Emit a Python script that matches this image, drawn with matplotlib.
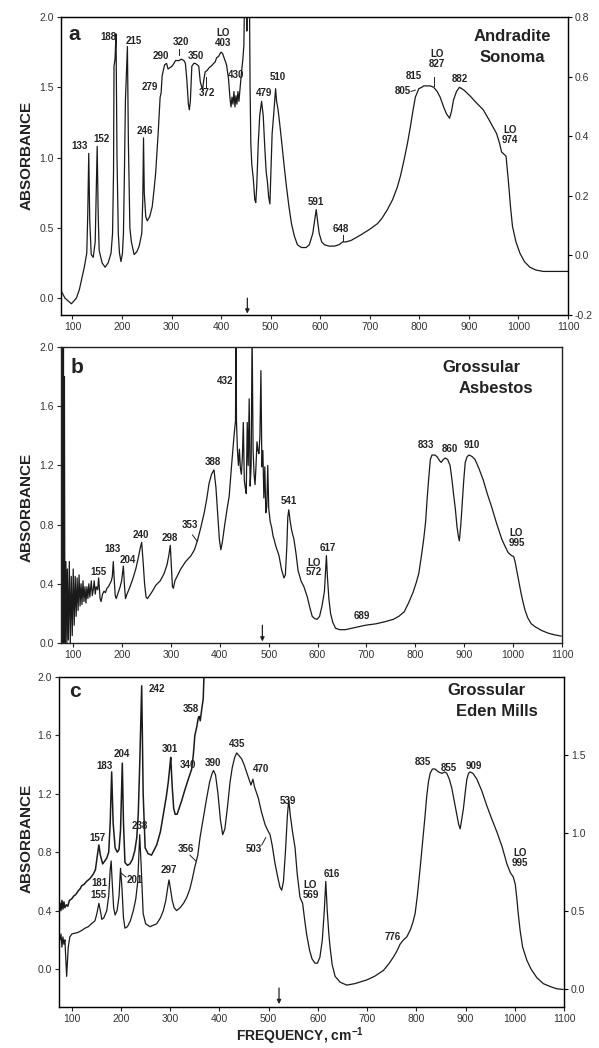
import matplotlib
matplotlib.use("Agg")
import matplotlib.pyplot as plt

plt.rcParams['font.family'] = ['Liberation Sans', 'DejaVu Sans']
plt.rcParams['mathtext.fontset'] = 'custom'
plt.rcParams['mathtext.rm'] = 'Liberation Sans'
plt.rcParams['mathtext.bf'] = 'Liberation Sans:bold'

# ---------------- data ----------------
# Panel a: Andradite Sonoma
a_x = [76, 85, 98, 108, 114, 124, 129, 131, 133, 135, 138, 142, 146, 150, 152, 154, 160, 166,
       172, 178, 181, 183, 184, 186, 188, 190, 192.6, 195, 198, 201, 203, 205, 207, 209, 211,
       213, 216, 219, 224.6, 230, 234.7, 240, 242, 243.5, 245, 248, 251, 256, 261, 265, 268,
       273, 277, 279, 281, 286, 290, 293, 297, 301, 305, 308, 315, 320, 325, 328, 331, 334,
       336, 338, 341, 345, 348, 352, 355, 358, 362.6, 365, 368, 372, 376, 380, 385, 388, 391,
       395, 398, 400, 403, 407, 411, 415, 418, 420, 422, 424, 426, 428, 430, 432, 434, 436,
       438, 441, 444, 446, 448, 450, 452, 454, 457, 458.5, 460, 462, 465, 468, 470, 472, 475,
       478, 481.7, 485, 488.5, 491, 493.7, 496, 498.5, 501, 503, 506, 508, 510, 512, 515, 518,
       522, 527, 532, 537, 542, 548, 554, 562, 571.5, 578, 585, 589, 592, 595, 598, 603, 608.5,
       618, 628.5, 638, 645.5, 652, 662, 672, 682, 700, 715.6, 725, 735.6, 746, 755.7, 762,
       769, 776, 782, 787, 792, 799, 805, 809, 815, 822, 829, 836, 842, 849, 855, 861, 865,
       869, 875, 881, 890, 902, 915, 929, 942, 956, 962, 966, 972, 975, 978, 980, 984, 988,
       995, 1003, 1012, 1023, 1035, 1050, 1075, 1100]
a_y = [0.06, 0.00, -0.04, 0.00, 0.06, 0.22, 0.32, 0.60, 1.03, 0.55, 0.31, 0.29, 0.40, 1.08,
       0.60, 0.34, 0.25, 0.22, 0.25, 0.32, 0.46, 0.90, 1.65, 1.70, 1.88, 1.00, 0.46, 0.32,
       0.26, 0.32, 0.46, 0.90, 1.41, 1.60, 1.79, 1.10, 0.50, 0.40, 0.31, 0.33, 0.37, 0.46,
       0.70, 1.14, 0.75, 0.58, 0.55, 0.58, 0.65, 0.78, 0.89, 1.17, 1.43, 1.46, 1.58, 1.66,
       1.67, 1.63, 1.64, 1.65, 1.67, 1.69, 1.69, 1.70, 1.69, 1.67, 1.55, 1.38, 1.34, 1.40,
       1.65, 1.67, 1.67, 1.66, 1.65, 1.54, 1.48, 1.55, 1.61, 1.62, 1.64, 1.65, 1.67, 1.68,
       1.71, 1.72, 1.74, 1.75, 1.74, 1.70, 1.66, 1.56, 1.42, 1.36, 1.43, 1.38, 1.47, 1.36,
       1.44, 1.38, 1.47, 1.40, 1.48, 1.60, 1.70, 1.80, 2.3, 2.5, 1.9, 2.5, 2.3, 1.5, 1.1,
       0.95, 0.85, 0.70, 0.68, 0.80, 1.10, 1.30, 1.40, 1.30, 1.05, 0.90, 0.82, 0.72, 0.67,
       0.95, 1.17, 1.30, 1.40, 1.49, 1.40, 1.34, 1.25, 1.12, 0.95, 0.79, 0.65, 0.53, 0.44,
       0.38, 0.36, 0.36, 0.38, 0.46, 0.56, 0.63, 0.54, 0.46, 0.40, 0.38, 0.37, 0.37, 0.38,
       0.40, 0.40, 0.41, 0.43, 0.45, 0.49, 0.53, 0.57, 0.63, 0.70, 0.79, 0.87, 0.98, 1.10,
       1.22, 1.33, 1.43, 1.49, 1.50, 1.51, 1.51, 1.51, 1.50, 1.47, 1.43, 1.36, 1.31, 1.28,
       1.33, 1.41, 1.47, 1.50, 1.48, 1.44, 1.39, 1.34, 1.26, 1.17, 1.10, 1.04, 1.02, 1.01,
       0.90, 0.82, 0.65, 0.51, 0.40, 0.32, 0.26, 0.22, 0.20, 0.19, 0.19, 0.19]

# Panel b: Grossular Asbestos
b_x = [75, 76, 77, 78, 79, 80, 81, 82, 83, 85, 87, 88, 90, 92, 94, 96, 98, 100, 102, 104, 106,
       108, 110, 112, 114, 116, 118, 120, 122, 124, 126, 128, 130, 132, 134, 137, 139, 141,
       143, 145, 147, 150, 152, 155, 157, 160, 163, 166, 169, 172, 175, 178, 180, 182, 184,
       186, 188, 192, 196, 199, 202.6, 205, 207, 210, 215, 221.6, 228, 234, 237, 240, 243,
       246, 249, 252, 256, 262, 269, 278, 286, 292, 296, 298.6, 301, 303, 305, 308, 314, 320,
       330, 341, 348, 354, 361, 368, 373, 378, 383, 388, 392, 396, 399, 402, 405, 410, 415,
       419, 424, 429, 432, 433, 434, 436, 438, 440, 442, 444, 446, 448, 450, 452, 454, 456,
       458, 460, 462, 464, 466, 468, 470, 472, 474, 476, 478, 480, 482, 484, 486, 488, 490,
       492, 494, 496, 498, 500, 503, 506, 509, 511, 514, 518, 521, 526, 531, 534, 537, 539,
       541, 544, 547, 551.6, 556, 560, 566, 572, 579, 584, 589, 594, 599, 604, 609, 614, 618,
       620, 623, 626.5, 631, 636.7, 645, 657, 670, 684, 698, 720, 739, 755, 766, 777, 786,
       795, 802, 807, 812, 817, 821, 824, 827, 830.6, 834, 840, 844, 850, 853, 857, 861, 866,
       871, 875, 878, 882, 885, 888, 890, 893, 896.5, 899, 902, 906, 910, 916, 922, 930, 939,
       947, 956, 966, 977, 984, 990, 997, 1001, 1004, 1008, 1011, 1016, 1020, 1024.5, 1030,
       1037, 1045, 1058, 1072, 1085, 1098]
b_y = [0.0, 2.1, 0.05, 2.1, 0.0, 2.1, 0.1, 1.8, 0.0, 0.55, 0.0, 0.50, 0.02, 0.55, 0.0, 0.45,
       0.05, 0.50, 0.12, 0.45, 0.18, 0.44, 0.22, 0.46, 0.25, 0.40, 0.26, 0.42, 0.28, 0.38,
       0.27, 0.38, 0.30, 0.40, 0.31, 0.42, 0.32, 0.36, 0.42, 0.33, 0.38, 0.36, 0.44, 0.30,
       0.28, 0.33, 0.35, 0.34, 0.37, 0.38, 0.40, 0.42, 0.45, 0.55, 0.42, 0.32, 0.30, 0.34,
       0.38, 0.42, 0.52, 0.38, 0.30, 0.33, 0.37, 0.43, 0.50, 0.59, 0.64, 0.68, 0.55, 0.40,
       0.31, 0.30, 0.32, 0.35, 0.39, 0.42, 0.47, 0.53, 0.60, 0.66, 0.50, 0.38, 0.37, 0.42,
       0.46, 0.50, 0.55, 0.59, 0.63, 0.69, 0.78, 0.88, 0.97, 1.08, 1.14, 1.17, 1.05, 0.85,
       0.70, 0.63, 0.68, 0.80, 0.91, 0.99, 1.20, 1.40, 1.50, 2.1, 1.50, 1.30, 1.20, 1.31,
       1.18, 1.14, 1.25, 1.49, 1.10, 1.05, 1.01, 1.49, 1.20, 1.65, 1.06, 1.20, 2.1, 1.30,
       1.14, 1.07, 1.20, 1.36, 1.30, 1.28, 1.40, 1.84, 1.19, 1.30, 0.98, 1.19, 0.88, 0.92,
       1.20, 0.91, 0.82, 0.78, 0.72, 0.70, 0.66, 0.62, 0.59, 0.50, 0.44, 0.46, 0.65, 0.85,
       0.90, 0.82, 0.76, 0.70, 0.60, 0.49, 0.42, 0.38, 0.31, 0.24, 0.18, 0.165, 0.16, 0.18,
       0.25, 0.35, 0.59, 0.45, 0.30, 0.20, 0.14, 0.10, 0.09, 0.09, 0.10, 0.11, 0.12, 0.13,
       0.145, 0.16, 0.18, 0.21, 0.27, 0.34, 0.41, 0.47, 0.58, 0.70, 0.82, 0.97, 1.10, 1.24,
       1.27, 1.27, 1.26, 1.23, 1.22, 1.24, 1.25, 1.24, 1.20, 1.10, 1.01, 0.90, 0.79, 0.72,
       0.69, 0.80, 0.97, 1.10, 1.22, 1.26, 1.27, 1.26, 1.24, 1.18, 1.10, 1.01, 0.92, 0.81,
       0.70, 0.65, 0.61, 0.59, 0.585, 0.55, 0.48, 0.43, 0.34, 0.28, 0.22, 0.17, 0.13, 0.11,
       0.085, 0.066, 0.055, 0.047]

# Panel c: Grossular Eden Mills, upper trace
c1_x = [76, 78, 80, 82, 84, 86, 89, 92, 95, 99.7, 104, 108, 113, 117, 120, 125, 130, 137,
        143.6, 148, 152, 155, 158, 162.7, 167, 171, 175, 178, 181, 184, 188, 192.4, 196, 199,
        202.6, 205, 208, 213, 218, 223, 228, 232, 235, 238, 242, 245, 249, 255, 262, 272.5,
        280, 286, 292, 296, 299, 301, 304, 307, 310, 314, 318, 323, 330, 336.7, 343.6, 347,
        350, 354, 357, 359, 361, 364, 367, 369, 371]
c1_y = [0.45, 0.40, 0.47, 0.41, 0.46, 0.42, 0.44, 0.43, 0.47, 0.48, 0.50, 0.51, 0.535, 0.55,
        0.57, 0.58, 0.60, 0.62, 0.65, 0.68, 0.78, 0.85, 0.78, 0.72, 0.74, 0.76, 0.80, 1.00,
        1.35, 1.00, 0.83, 0.80, 0.82, 0.95, 1.41, 1.00, 0.73, 0.71, 0.72, 0.75, 0.81, 0.90,
        1.06, 1.40, 1.94, 1.20, 0.83, 0.79, 0.78, 0.85, 0.94, 1.06, 1.18, 1.28, 1.38, 1.45,
        1.25, 1.10, 1.06, 1.06, 1.10, 1.15, 1.23, 1.30, 1.37, 1.47, 1.60, 1.66, 1.72, 1.73,
        1.70, 1.78, 1.85, 2.05, 2.2]

# Panel c: lower trace
c2_x = [76, 78, 80, 82, 84, 86, 89.5, 92.8, 96, 100, 106, 112, 120, 127, 133.5, 140, 147, 151,
        155, 158, 161, 165, 171, 175, 178, 180, 182, 185, 188, 192, 196, 199, 202, 205, 208,
        213, 219, 225, 230, 234, 238, 241, 245, 250, 259, 266, 272.5, 280, 286, 291, 295,
        297.5, 300, 304, 308, 313, 320, 327, 333.5, 340, 345, 350, 356, 360.5, 367, 374, 380,
        385, 388, 392, 397, 402, 406.6, 411, 416, 421.5, 426, 431, 435, 440, 445, 450, 455,
        460, 464, 468, 471, 475, 479, 485, 492.6, 498, 502.8, 507, 513, 519, 523, 526.5, 530,
        534, 538, 540.8, 544, 548, 553.6, 558, 563.7, 569, 573, 577, 583, 588, 594, 599, 604,
        609, 613, 616, 619, 622, 624.7, 629, 635, 645, 658.7, 675, 699, 715, 733, 745, 753,
        760, 767, 774, 780.6, 788, 793, 797.5, 802, 807.7, 813, 818, 821, 824.5, 828, 832.7,
        838, 845, 852, 858, 862, 867, 872, 877, 882, 886, 889, 892, 895.7, 899, 902.6, 906,
        909, 915, 923, 933, 943, 953, 963.5, 974, 984, 991, 997, 1001, 1004, 1007, 1011, 1016,
        1024.5, 1033, 1045, 1058, 1072, 1085, 1098]
c2_y = [0.20, 0.24, 0.15, 0.22, 0.17, 0.20, -0.05, 0.15, 0.22, 0.24, 0.245, 0.25, 0.264,
        0.28, 0.29, 0.31, 0.33, 0.38, 0.45, 0.40, 0.34, 0.35, 0.40, 0.50, 0.68, 0.74, 0.60,
        0.42, 0.37, 0.40, 0.50, 0.69, 0.55, 0.35, 0.28, 0.29, 0.33, 0.40, 0.48, 0.60, 0.92,
        0.70, 0.38, 0.31, 0.29, 0.30, 0.31, 0.35, 0.40, 0.47, 0.56, 0.61, 0.56, 0.47, 0.42,
        0.40, 0.42, 0.45, 0.49, 0.55, 0.62, 0.70, 0.78, 0.90, 1.03, 1.17, 1.28, 1.34, 1.36,
        1.33, 1.20, 1.02, 0.92, 0.96, 1.10, 1.28, 1.38, 1.45, 1.48, 1.46, 1.44, 1.40, 1.35,
        1.30, 1.26, 1.30, 1.25, 1.21, 1.17, 1.08, 0.99, 0.95, 0.92, 0.85, 0.72, 0.62, 0.56,
        0.54, 0.60, 0.80, 1.05, 1.16, 1.05, 0.95, 0.83, 0.65, 0.49, 0.45, 0.34, 0.24, 0.13,
        0.07, 0.04, 0.04, 0.08, 0.20, 0.40, 0.60, 0.40, 0.25, 0.15, 0.03, -0.05, -0.09,
        -0.11, -0.10, -0.075, -0.05, -0.01, 0.04, 0.08, 0.12, 0.17, 0.20, 0.22, 0.27, 0.32,
        0.38, 0.50, 0.69, 0.88, 1.06, 1.18, 1.28, 1.34, 1.37, 1.37, 1.35, 1.34, 1.35, 1.34,
        1.30, 1.24, 1.15, 1.06, 0.99, 0.96, 1.02, 1.10, 1.20, 1.30, 1.34, 1.35, 1.34, 1.30,
        1.22, 1.12, 1.03, 0.94, 0.84, 0.72, 0.66, 0.63, 0.58, 0.49, 0.38, 0.26, 0.15, 0.06,
        0.00, -0.06, -0.10, -0.12, -0.135, -0.14]

x_ticks = [100, 200, 300, 400, 500, 600, 700, 800, 900, 1000, 1100]

# peak labels: (text, frequency, absorbance)
a_labels = [("133", 114, 1.08), ("152", 159, 1.13), ("188", 173, 1.86), ("215", 223, 1.83),
            ("246", 246, 1.19), ("279", 256, 1.50), ("290", 279, 1.72), ("320", 319, 1.82),
            ("350", 350, 1.72), ("LO\n403", 403, 1.85), ("430", 430, 1.59), ("372", 371, 1.46),
            ("479", 486, 1.46), ("510", 515, 1.57), ("591", 592, 0.685), ("648", 641, 0.49),
            ("805", 766, 1.47), ("815", 788, 1.58), ("LO\n827", 836, 1.70), ("882", 881, 1.56),
            ("LO\n974", 983, 1.16)]
b_labels = [("155", 152, 0.48), ("183", 181, 0.635), ("204", 211, 0.56), ("240", 239, 0.73),
            ("298", 298, 0.71), ("353", 339, 0.80), ("388", 385, 1.22), ("432", 411, 1.77),
            ("541", 541, 0.96), ("LO\n572", 592, 0.51), ("617", 620, 0.64), ("689", 691, 0.18),
            ("833", 822, 1.34), ("860", 871, 1.31), ("910", 915, 1.34), ("LO\n995", 1007, 0.71)]
c_labels = [("242", 272, 1.92), ("358", 342, 1.78), ("301", 299, 1.51), ("340", 335, 1.40),
            ("390", 387, 1.41), ("435", 435, 1.54), ("470", 484, 1.37), ("539", 540, 1.15),
            ("503", 469, 0.82), ("183", 167, 1.39), ("204", 201, 1.47), ("157", 153, 0.90),
            ("238", 238, 0.98), ("356", 332, 0.82), ("297", 298, 0.68), ("181", 156, 0.59),
            ("155", 154, 0.51), ("201", 228, 0.61), ("LO\n569", 585, 0.54), ("616", 628, 0.65),
            ("776", 753, 0.22), ("835", 814, 1.42), ("855", 865, 1.38), ("909", 917, 1.39),
            ("LO\n995", 1011, 0.76)]

# ---------------- figure ----------------
W, H = 599, 1048
fig = plt.figure(figsize=(W / 100, H / 100), dpi=100)

def box(l, r, t, b):
    return [l / W, 1 - b / H, (r - l) / W, (b - t) / H]

ax_a = fig.add_axes(box(61, 568, 17, 315))
ax_b = fig.add_axes(box(61, 562, 347, 643))
ax_c = fig.add_axes(box(59, 564, 677, 1007))

LW = 0.9
TXT = dict(fontsize=7, fontweight='bold', ha='center', va='center', linespacing=0.95,
           color='#222222')
TICKCOL = '#333333'


def style(ax, xlim, ylim, yticks, yfmt):
    ax.set_xlim(*xlim)
    ax.set_ylim(*ylim)
    ax.set_xticks(x_ticks)
    ax.set_xticklabels([str(v) for v in x_ticks])
    ax.set_yticks(yticks)
    ax.set_yticklabels([yfmt.format(v) for v in yticks])
    ax.tick_params(axis='both', direction='out', length=3, width=0.8, labelsize=7.5,
                   labelcolor=TICKCOL, color='#222222', pad=2)
    for s in ax.spines.values():
        s.set_linewidth(1.0)
        s.set_color('#222222')


def label(ax, items):
    for t, x, y in items:
        ax.text(x, y, t, **TXT)


def pointer(ax, x0, y0, x1, y1):
    ax.plot([x0, x1], [y0, y1], color='#222222', lw=0.7)


def arrow(ax, x, ytop, ybot):
    ax.annotate('', xy=(x, ybot), xytext=(x, ytop),
                arrowprops=dict(arrowstyle='-|>', color='#222222', lw=0.9,
                                mutation_scale=6, shrinkA=0, shrinkB=0))

# --- panel a ---
ax = ax_a
ax.plot(a_x, a_y, color='#1a1a1a', lw=LW)
style(ax, (77, 1100), (-0.12, 2.0), [0.0, 0.5, 1.0, 1.5, 2.0], "{:.1f}")
axr = ax.twinx()
axr.set_ylim(-0.2, 0.8)
axr.set_yticks([-0.2, 0.0, 0.2, 0.4, 0.6, 0.8])
axr.set_yticklabels(["-0.2", "0.0", "0.2", "0.4", "0.6", "0.8"])
axr.tick_params(axis='y', direction='out', length=3, width=0.8, labelsize=7.5,
                labelcolor=TICKCOL, pad=2)
label(ax, a_labels)
pointer(ax, 316, 1.77, 316, 1.73)
pointer(ax, 370, 1.50, 370, 1.57)
pointer(ax, 783, 1.47, 792, 1.48)
pointer(ax, 830, 1.57, 830, 1.51)
pointer(ax, 645, 0.45, 645, 0.41)
arrow(ax, 453, 0.0, -0.11)
ax.text(0.015, 0.94, 'a', transform=ax.transAxes, fontsize=15, fontweight='bold',
        ha='left', va='center', color='#222222')
ax.text(0.89, 0.935, 'Andradite', transform=ax.transAxes, fontsize=12, fontweight='bold',
        ha='center', va='center', color='#222222')
ax.text(0.89, 0.865, 'Sonoma', transform=ax.transAxes, fontsize=12, fontweight='bold',
        ha='center', va='center', color='#222222')

# --- panel b ---
ax = ax_b
ax.plot(b_x, b_y, color='#1a1a1a', lw=LW)
style(ax, (75, 1100), (0.0, 2.0), [0.0, 0.4, 0.8, 1.2, 1.6, 2.0], "{:.1f}")
label(ax, b_labels)
pointer(ax, 344, 0.73, 353, 0.69)
arrow(ax, 487, 0.12, 0.01)
ax.text(0.02, 0.93, 'b', transform=ax.transAxes, fontsize=15, fontweight='bold',
        ha='left', va='center', color='#222222')
ax.text(0.84, 0.931, 'Grossular', transform=ax.transAxes, fontsize=12, fontweight='bold',
        ha='center', va='center', color='#222222')
ax.text(0.868, 0.86, 'Asbestos', transform=ax.transAxes, fontsize=12, fontweight='bold',
        ha='center', va='center', color='#222222')

# --- panel c ---
ax = ax_c
ax.plot(c1_x, c1_y, color='#1a1a1a', lw=LW + 0.2)
ax.plot(c2_x, c2_y, color='#1a1a1a', lw=LW)
style(ax, (74, 1100), (-0.26, 2.0), [0.0, 0.4, 0.8, 1.2, 1.6, 2.0], "{:.1f}")
axr = ax.twinx()
axr.set_ylim(-0.116, 2.0)
axr.set_yticks([0.0, 0.5, 1.0, 1.5])
axr.set_yticklabels(["0.0", "0.5", "1.0", "1.5"])
axr.tick_params(axis='y', direction='out', length=3, width=0.8, labelsize=7.5,
                labelcolor=TICKCOL, pad=2)
label(ax, c_labels)
pointer(ax, 340, 0.78, 352, 0.74)
pointer(ax, 486, 0.85, 494, 0.90)
pointer(ax, 210, 0.63, 199, 0.66)
arrow(ax, 521, -0.13, -0.24)
ax.text(0.02, 0.955, 'c', transform=ax.transAxes, fontsize=15, fontweight='bold',
        ha='left', va='center', color='#222222')
ax.text(0.847, 0.96, 'Grossular', transform=ax.transAxes, fontsize=12, fontweight='bold',
        ha='center', va='center', color='#222222')
ax.text(0.867, 0.895, 'Eden Mills', transform=ax.transAxes, fontsize=12, fontweight='bold',
        ha='center', va='center', color='#222222')
fig.text(300 / W, 1 - 1036 / H, r'FREQUENCY, cm$^{\mathbf{-1}}$',
         fontsize=10, fontweight='bold', ha='center', va='center', color='#222222')

for yc in (1 - 155 / H, 1 - 507 / H, 1 - 838 / H):
    fig.text(27 / W, yc, 'ABSORBANCE', rotation=90, fontsize=11, fontweight='bold',
             ha='center', va='center', color='#222222')

fig.savefig('out.png', dpi=100, facecolor='white')
